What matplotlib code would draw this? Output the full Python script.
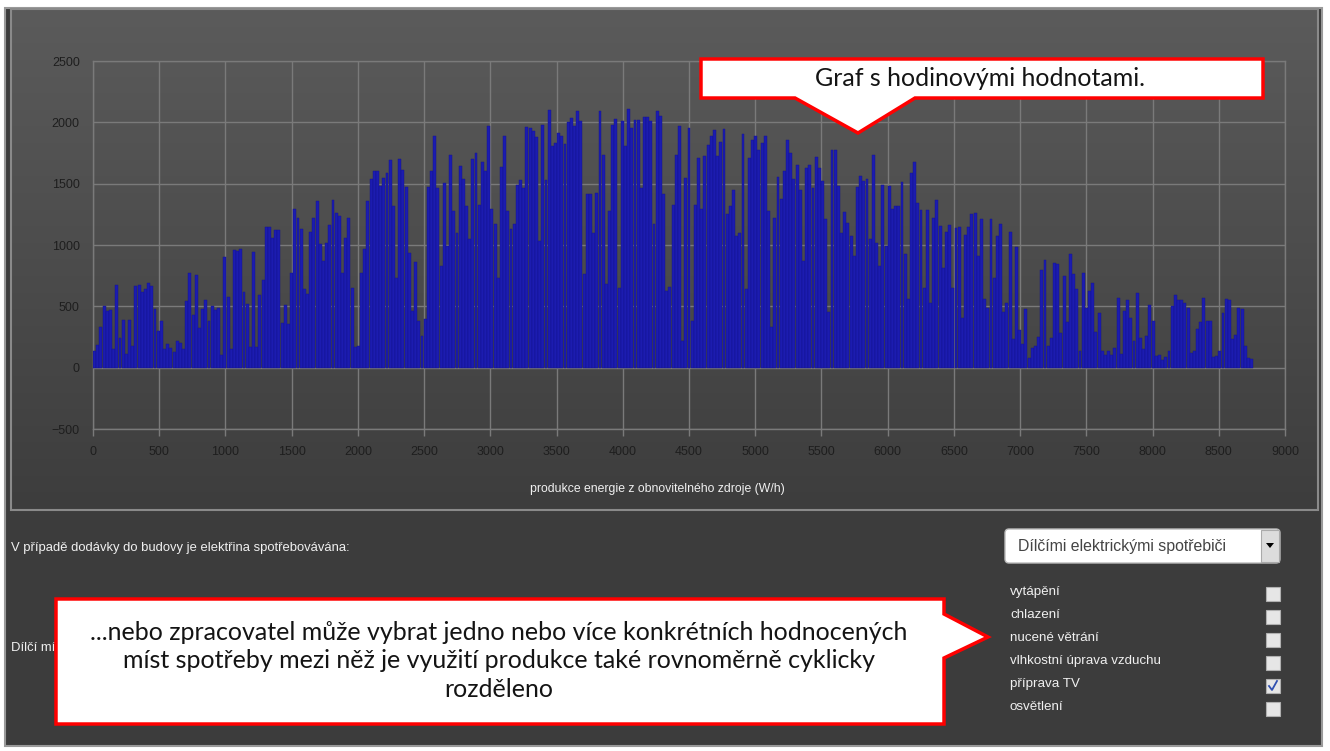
import numpy as np
import matplotlib
matplotlib.use("Agg")
import matplotlib.pyplot as plt
from matplotlib.patches import Rectangle, Polygon, FancyBboxPatch

# daily peak of hourly production (W/h)
peaks_q1 = [133, 187, 334, 500, 460, 470, 155, 676, 245, 385, 110, 390, 180, 662, 676, 614,
            640, 690, 662, 478, 296, 377, 155, 190, 160, 130, 220, 198, 155, 540, 770, 430,
            757, 320, 478, 554, 377, 500, 473, 487, 100, 906, 580, 150, 960, 955, 966, 620,
            520, 170, 940, 170, 590, 718, 1146, 1150, 1055, 1123, 1123, 365, 513, 360, 770, 1290]
peaks_q2 = [1222, 1127, 640, 600, 1105, 1222, 1358, 1005, 870, 1019, 1160, 1366, 1257, 1236, 770, 1060,
            1222, 653, 165, 180, 775, 970, 1358, 1534, 1602, 1602, 1485, 1548, 1583, 1690, 1317, 735,
            1700, 1615, 1474, 932, 463, 862, 382, 260, 395, 1474, 1602, 1892, 1466, 830, 1507, 992,
            1732, 1276, 1100, 1642, 1534, 1322, 1046, 1700, 1750, 1330, 1675, 1602, 1973, 1295, 1170, 735]
peaks_q3 = [1634, 1886, 1276, 1127, 1168, 1488, 1526, 1466, 1960, 1954, 1927, 1878, 1032, 1981, 1526, 2103,
            1805, 1832, 1913, 1886, 1824, 2003, 2035, 1968, 2089, 2014, 761, 1412, 1412, 1100, 1425, 2089,
            1737, 680, 1276, 1976, 2030, 653, 2014, 1805, 2111, 1954, 2022, 2022, 1466, 2041, 2041, 2008,
            1168, 2095, 2049, 1412, 626, 658, 1330, 1737, 1968, 220, 1547, 1954, 382, 1330, 1710, 1290]
peaks_q4 = [1724, 1818, 1886, 1940, 1724, 1837, 1946, 1249, 1317, 1447, 1073, 1100, 1908, 640, 1710, 1859,
            1892, 1778, 1832, 1892, 1276, 328, 1222, 1556, 1371, 1602, 1859, 1751, 1534, 1656, 1447, 870,
            1629, 1656, 1466, 1718, 1629, 1520, 1209, 450, 1778, 1772, 1480, 1095, 1268, 1181, 1073, 910,
            1474, 1566, 1520, 1534, 1046, 1737, 1019, 829, 1493, 992, 1480, 1290, 1317, 1317, 1512, 930, 556]
peaks_q5 = [1590, 1677, 1345, 1285, 651, 1285, 529, 1223, 1367, 1155, 815, 1106, 1160, 651, 1141, 1149,
            407, 1078, 1149, 1250, 1258, 910, 1214, 556, 488, 1214, 733, 1073, 1168, 453, 529, 1106,
            230, 986, 311, 197, 475, 80, 162, 175, 252, 796, 877, 175, 243, 855, 842, 284,
            747, 371, 923, 760, 643, 135, 774, 488, 624, 692, 290, 447, 135, 100, 135, 100]
peaks_q6 = [163, 568, 109, 460, 555, 406, 217, 609, 244, 155, 257, 514, 379, 95, 101, 63,
            90, 136, 500, 590, 555, 555, 528, 487, 117, 136, 317, 371, 568, 379, 379, 90,
            95, 136, 447, 560, 549, 230, 263, 487, 482, 176, 82, 68]

x_ticks = list(range(0, 9001, 500))
y_ticks = list(range(-500, 2501, 500))
x_label = "produkce energie z obnovitelného zdroje (W/h)"
question = "V případě dodávky do budovy je elektřina spotřebovávána:"
hidden_label = "Dílčí mí"   # rest of the label is covered by the callout
dropdown_text = "Dílčími elektrickými spotřebiči"
consumers = ["vytápění", "chlazení", "nucené větrání", "vlhkostní úprava vzduchu", "příprava TV", "osvětlení"]
checked = [False, False, False, False, True, False]
callout_top = "Graf s hodinovými hodnotami."
callout_bottom = ("...nebo zpracovatel může vybrat jedno nebo více konkrétních hodnocených\n"
                  "míst spotřeby mezi něž je využití produkce také rovnoměrně cyklicky\n"
                  "rozděleno")

peaks = np.array(peaks_q1 + peaks_q2 + peaks_q3 + peaks_q4 + peaks_q5 + peaks_q6)
hours = np.arange(len(peaks)) * 24 + 12

W, H = 1330, 751
fig = plt.figure(figsize=(W / 100, H / 100), dpi=100, facecolor="white")

# background in pixel coordinates
bg = fig.add_axes([0, 0, 1, 1], zorder=0)
bg.add_patch(Rectangle((5, 8), 1317, 738, facecolor="#3c3c3c", edgecolor="#9a9a9a", lw=1.5, zorder=1))
grad = np.linspace(0, 1, 256).reshape(-1, 1)
top_c = np.array([0x5b, 0x5b, 0x5b]) / 255
bot_c = np.array([0x3d, 0x3d, 0x3d]) / 255
img = top_c + grad[..., None] * (bot_c - top_c)
bg.imshow(img, extent=(11, 1318, 510, 9), aspect="auto", interpolation="bilinear", zorder=2)
bg.add_patch(Rectangle((11, 9), 1307, 501, facecolor="none", edgecolor="#8a8a8a", lw=1.5, zorder=3))
bg.set_xlim(0, W)
bg.set_ylim(H, 0)
bg.axis("off")

# chart
ax = fig.add_axes([93 / W, 1 - 429 / H, (1285 - 93) / W, (429 - 61) / H], zorder=2)
ax.patch.set_alpha(0)
ax.bar(hours, peaks, width=22, color="#1c1cb0", edgecolor="#12128a", linewidth=0.3, zorder=3)
ax.set_xlim(0, 9000)
ax.set_ylim(-500, 2500)
ax.set_xticks(x_ticks)
ax.set_yticks(y_ticks)
ax.grid(True, color="#7a7a7a", linewidth=1.0, zorder=1)
ax.set_axisbelow(True)
for s in ax.spines.values():
    s.set_color("#7a7a7a")
    s.set_linewidth(1.0)
ax.tick_params(axis="x", length=5, width=1.0, color="#7a7a7a", pad=7.5,
               labelsize=9, labelcolor="#1e1e1e")
ax.tick_params(axis="y", length=0, pad=9.5, labelsize=9, labelcolor="#1e1e1e")
for lab in ax.get_xticklabels() + ax.get_yticklabels():
    lab.set_fontfamily("Liberation Sans")

# overlay: form elements and callouts
ov = fig.add_axes([0, 0, 1, 1], zorder=5)
ov.patch.set_alpha(0)
ov.set_xlim(0, W)
ov.set_ylim(H, 0)
ov.axis("off")

ov.text(657, 489, x_label, fontsize=8.8, color="#f0f0f0", family="Liberation Sans",
        ha="center", va="center")
ov.text(11, 548, question, fontsize=9.4, color="#f0f0f0", family="Liberation Sans", va="center")
ov.text(11, 648, hidden_label, fontsize=9.4, color="#f0f0f0",
        family="Liberation Sans", va="center", zorder=1)

ov.add_patch(FancyBboxPatch((1005, 529), 275, 34, boxstyle="round,pad=0,rounding_size=4",
                            facecolor="white", edgecolor="#bbbbbb", lw=1))
ov.add_patch(Rectangle((1261, 530), 18, 32, facecolor="#dcdcdc", edgecolor="#aaaaaa", lw=0.8))
ov.add_patch(Polygon([(1266, 543), (1274, 543), (1270, 548)], closed=True, facecolor="black"))
ov.text(1018, 546, dropdown_text, fontsize=11.4, color="#444444", family="Liberation Sans", va="center")

for i, (name, on) in enumerate(zip(consumers, checked)):
    yc = 594 + i * 23
    ov.text(1010, yc - 2, name, fontsize=9.6, color="#f0f0f0", family="Liberation Sans", va="center")
    ov.add_patch(Rectangle((1266, yc - 7), 14, 14, facecolor="#e6e6e6", edgecolor="#b0b0b0", lw=0.8))
    if on:
        ov.plot([1269, 1272, 1277], [yc, yc + 4, yc - 5], color="#3050b0", lw=1.3)

# callout above the chart
ov.add_patch(Polygon([(701, 59), (1263, 59), (1263, 98), (915, 98), (858, 133), (795, 98), (701, 98)],
                     closed=True, facecolor="white", edgecolor="#ff0000", lw=2.5, zorder=3))
ov.text(980, 78, callout_top, fontsize=18, color="#141414", family="Lato",
        ha="center", va="center", zorder=4)

# callout next to the check boxes
ov.add_patch(Polygon([(56, 599), (944, 599), (944, 614), (988, 637), (944, 658), (944, 724), (56, 724)],
                     closed=True, facecolor="white", edgecolor="#ff0000", lw=2.5, zorder=3))
ov.text(499, 661, callout_bottom, fontsize=18, color="#141414", family="Lato",
        ha="center", va="center", linespacing=1.3, zorder=4)

fig.savefig("out.png", dpi=100, facecolor=fig.get_facecolor())
